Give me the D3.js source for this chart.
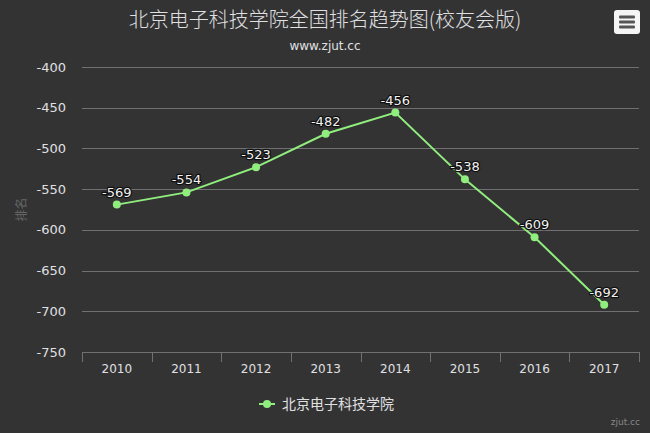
<!DOCTYPE html>
<html>
<head>
<meta charset="utf-8">
<script src="https://cdn.jsdelivr.net/npm/d3@7"></script>
<style>
  body { margin: 0; background: #333333; }
  svg { display: block; font-family: "Lucida Grande", "DejaVu Sans", "Noto Sans CJK SC", sans-serif; }
</style>
</head>
<body>
<div id="chart"></div>
<script>
const years = ['2010', '2011', '2012', '2013', '2014', '2015', '2016', '2017'];
const ranks = [-569, -554, -523, -482, -456, -538, -609, -692];
const yTicks = [-400, -450, -500, -550, -600, -650, -700, -750];
const seriesName = '北京电子科技学院';

const width = 650;
const height = 433;
const margin = { top: 67, right: 11, bottom: 81, left: 82 };
const chartWidth = width - margin.left - margin.right;
const chartHeight = height - margin.top - margin.bottom;
const lineColor = '#90ee7e';

const svg = d3.select('#chart')
  .append('svg')
  .attr('width', width)
  .attr('height', height);

svg.append('rect')
  .attr('width', width)
  .attr('height', height)
  .attr('fill', '#333333');

const xScale = d3.scaleBand()
  .domain(years)
  .range([0, chartWidth]);

const yScale = d3.scaleLinear()
  .domain([-750, -400])
  .range([chartHeight, 0]);

const chart = svg.append('g')
  .attr('transform', `translate(${margin.left}, ${margin.top})`);

// title
svg.append('text')
  .attr('x', width / 2)
  .attr('y', 27)
  .attr('text-anchor', 'middle')
  .attr('fill', '#e0e0e3')
  .attr('font-size', '20px')
  .attr('font-family', '"Noto Sans CJK SC", sans-serif')
  .attr('font-weight', 300)
  .text('北京电子科技学院全国排名趋势图(校友会版)');

svg.append('text')
  .attr('x', width / 2)
  .attr('y', 50)
  .attr('text-anchor', 'middle')
  .attr('fill', '#e0e0e3')
  .attr('font-size', '12px')
  .text('www.zjut.cc');

// grid lines
chart.selectAll('.grid')
  .data(yTicks)
  .enter()
  .append('line')
  .attr('x1', 0)
  .attr('x2', chartWidth)
  .attr('y1', d => Math.round(yScale(d)) + 0.5)
  .attr('y2', d => Math.round(yScale(d)) + 0.5)
  .attr('stroke', '#707073')
  .attr('stroke-width', 1);

// y labels
chart.selectAll('.y-label')
  .data(yTicks)
  .enter()
  .append('text')
  .attr('x', -16)
  .attr('y', d => yScale(d))
  .attr('dy', '0.35em')
  .attr('text-anchor', 'end')
  .attr('fill', '#e0e0e3')
  .attr('font-size', '13px')
  .text(d => d);

svg.append('text')
  .attr('transform', `translate(26, ${margin.top + chartHeight / 2}) rotate(-90)`)
  .attr('text-anchor', 'middle')
  .attr('fill', '#666666')
  .attr('font-size', '12px')
  .attr('font-family', '"Noto Sans CJK SC", sans-serif')
  .text('排名');

// x axis
const xAxis = chart.append('g')
  .attr('transform', `translate(0, ${chartHeight})`);

xAxis.append('line')
  .attr('x1', 0)
  .attr('x2', chartWidth)
  .attr('y1', 0.5)
  .attr('y2', 0.5)
  .attr('stroke', '#707073');

xAxis.selectAll('.tick')
  .data(years.concat(['end']))
  .enter()
  .append('line')
  .attr('x1', (d, i) => Math.round(i * xScale.step()) + 0.5)
  .attr('x2', (d, i) => Math.round(i * xScale.step()) + 0.5)
  .attr('y1', 0)
  .attr('y2', 10)
  .attr('stroke', '#707073');

xAxis.selectAll('.x-label')
  .data(years)
  .enter()
  .append('text')
  .attr('x', d => xScale(d) + xScale.bandwidth() / 2)
  .attr('y', 21)
  .attr('text-anchor', 'middle')
  .attr('fill', '#e0e0e3')
  .attr('font-size', '12px')
  .text(d => d);

// line
const line = d3.line()
  .x((d, i) => xScale(years[i]) + xScale.bandwidth() / 2)
  .y(d => yScale(d));

chart.append('path')
  .datum(ranks)
  .attr('d', line)
  .attr('fill', 'none')
  .attr('stroke', lineColor)
  .attr('stroke-width', 2);

chart.selectAll('.dot')
  .data(ranks)
  .enter()
  .append('circle')
  .attr('cx', (d, i) => xScale(years[i]) + xScale.bandwidth() / 2)
  .attr('cy', d => yScale(d))
  .attr('r', 4)
  .attr('fill', lineColor);

chart.selectAll('.data-label')
  .data(ranks)
  .enter()
  .append('text')
  .attr('x', (d, i) => xScale(years[i]) + xScale.bandwidth() / 2)
  .attr('y', d => yScale(d) - 8)
  .attr('text-anchor', 'middle')
  .attr('font-size', '13px')
  .attr('fill', '#f0f0f0')
  .attr('stroke', '#111')
  .attr('stroke-width', 2.5)
  .attr('stroke-linejoin', 'round')
  .attr('paint-order', 'stroke')
  .text(d => d);

// legend
const legend = svg.append('g')
  .attr('transform', 'translate(259, 404)');

legend.append('line')
  .attr('x1', 0)
  .attr('x2', 16)
  .attr('y1', 0)
  .attr('y2', 0)
  .attr('stroke', lineColor)
  .attr('stroke-width', 2);

legend.append('circle')
  .attr('cx', 8)
  .attr('cy', 0)
  .attr('r', 4)
  .attr('fill', lineColor);

legend.append('text')
  .attr('x', 23)
  .attr('y', 0)
  .attr('dy', '0.35em')
  .attr('fill', '#e0e0e3')
  .attr('font-size', '14px')
  .attr('font-family', '"Noto Sans CJK SC", sans-serif')
  .text(seriesName);

// credits
svg.append('text')
  .attr('x', width - 10)
  .attr('y', height - 8)
  .attr('text-anchor', 'end')
  .attr('fill', '#888')
  .attr('font-size', '9px')
  .text('zjut.cc');

// menu button
const menu = svg.append('g')
  .attr('transform', 'translate(614, 10)');

menu.append('rect')
  .attr('width', 26)
  .attr('height', 24)
  .attr('rx', 3)
  .attr('fill', '#f5f5f5');

menu.selectAll('.bar')
  .data([7, 12, 17])
  .enter()
  .append('rect')
  .attr('x', 5)
  .attr('y', d => d - 1.5)
  .attr('width', 16)
  .attr('height', 3)
  .attr('rx', 1)
  .attr('fill', '#555');
</script>
</body>
</html>
